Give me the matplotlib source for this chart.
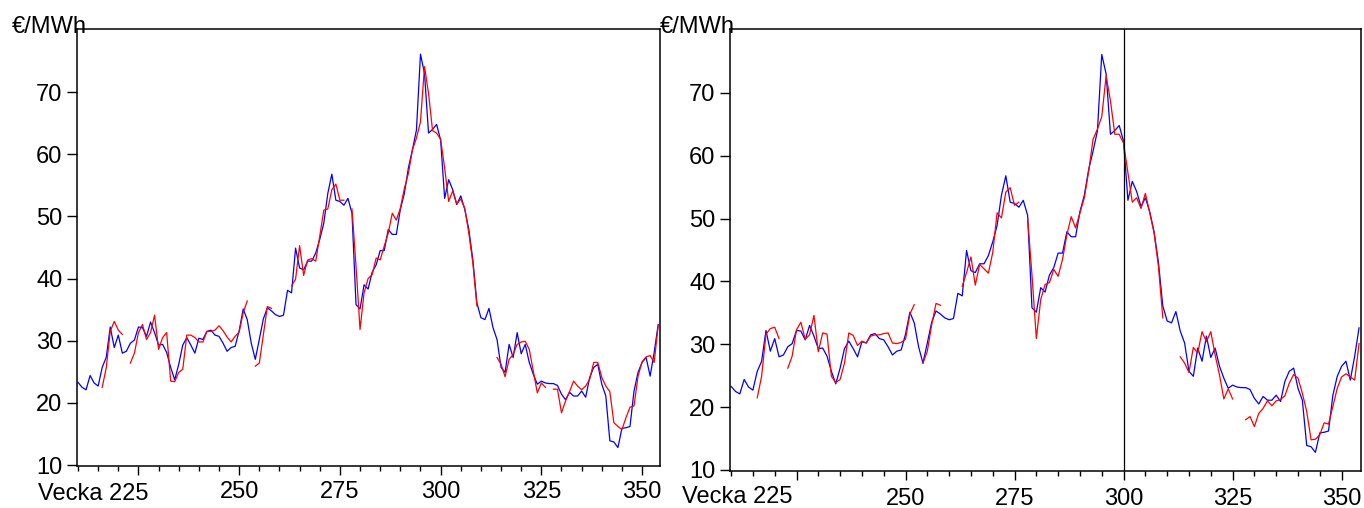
import numpy as np
import matplotlib.pyplot as plt
from matplotlib.ticker import MultipleLocator

plt.rcParams['font.family'] = ['Liberation Sans', 'DejaVu Sans']

nan = np.nan
weeks = np.arange(210, 355)

# spotpris per vecka (blå)
price = [23.3, 22.5, 22.1, 24.4, 23.2, 22.7, 25.7, 27.3, 32.2, 28.9,
         30.9, 28.0, 28.3, 29.6, 30.1, 32.2, 32.1, 30.7, 33.0, 31.3,
         29.3, 29.4, 28.1, 25.7, 23.7, 26.2, 29.3, 30.5, 29.3, 28.0,
         30.4, 30.2, 31.5, 31.7, 30.9, 30.7, 29.6, 28.3, 28.9, 29.1,
         31.6, 35.1, 33.4, 29.6, 27.0, 30.2, 33.5, 35.3, 34.8, 34.2,
         33.9, 34.1, 38.1, 37.7, 44.9, 41.7, 41.4, 42.8, 42.8, 44.1,
         46.3, 48.9, 53.7, 56.8, 52.6, 52.4, 51.8, 52.9, 50.5, 35.8,
         35.1, 39.0, 38.3, 41.0, 42.2, 44.5, 44.5, 47.9, 47.1, 47.1,
         51.1, 53.7, 57.8, 60.7, 63.9, 76.1, 73.0, 63.4, 64.0, 64.8,
         62.3, 52.9, 55.9, 54.3, 51.9, 53.3, 51.1, 47.9, 43.0, 36.1,
         33.7, 33.4, 35.2, 32.1, 30.2, 25.7, 24.9, 29.4, 27.3, 31.3,
         27.9, 29.4, 26.5, 24.6, 23.0, 23.5, 23.2, 23.1, 23.1, 22.8,
         21.4, 20.5, 21.7, 21.1, 21.1, 21.9, 20.9, 24.1, 25.7, 26.2,
         23.0, 21.1, 13.9, 13.7, 12.8, 15.9, 16.0, 16.2, 21.9, 24.9,
         26.5, 27.3, 24.3, 28.1, 32.6]

# prognos, vänster figur (röd)
fc_left = [nan, nan, nan, nan, nan, nan, 22.5, 25.6, 31.5, 33.1,
           31.7, 31.0, nan, 26.4, 28.0, 31.3, 32.6, 30.2, 31.3, 34.1,
           28.6, 30.5, 31.3, 23.5, 23.4, 24.9, 25.4, 30.9, 30.9, 30.5,
           29.8, 29.8, 31.5, 31.5, 31.7, 32.4, 31.6, 30.6, 29.8, 30.7,
           31.4, 34.5, 36.4, nan, 25.9, 26.4, 31.0, 35.5, 35.2, nan,
           nan, nan, nan, 38.8, 39.9, 45.3, 40.5, 43.0, 43.2, 42.8,
           46.8, 51.0, 51.2, 54.3, 55.2, 52.6, 52.6, nan, 51.2, 42.0,
           31.8, 37.7, 40.0, 40.6, 43.3, 43.0, 45.2, 47.3, 50.5, 49.4,
           51.3, 54.5, 56.9, 60.7, 62.6, 65.2, 74.1, 69.8, 63.8, 63.4,
           62.4, 57.8, 52.4, 54.1, 52.0, 52.8, 51.3, 47.3, 42.5, 35.6,
           nan, nan, nan, nan, 27.3, 26.2, 24.2, 27.0, 27.8, 29.4,
           29.8, 29.9, 28.6, 25.1, 21.6, 23.2, 22.5, nan, 22.2, 22.2,
           18.4, 20.3, 21.8, 23.5, 22.7, 22.1, 22.7, 23.8, 26.5, 26.5,
           24.1, 22.7, 21.8, 16.8, 16.2, 15.7, 17.6, 19.3, 19.5, 24.3,
           26.6, 27.4, 27.6, 26.5, 32.4]

# prognos, höger figur (röd)
fc_right = [nan, nan, nan, nan, nan, nan, 21.5, 24.9, 31.6, 32.5,
            32.7, 30.9, nan, 26.2, 28.1, 32.3, 33.5, 30.8, 31.5, 34.6,
            28.8, 31.8, 31.6, 24.9, 23.9, 24.4, 27.0, 31.8, 31.4, 29.8,
            30.5, 30.2, 31.3, 31.5, 31.5, 31.7, 31.8, 30.2, 30.1, 30.3,
            30.8, 34.8, 36.3, nan, 27.0, 28.9, 33.1, 36.5, 36.2, nan,
            nan, nan, nan, 39.2, 41.4, 43.9, 39.4, 42.7, 42.0, 41.3,
            44.6, 50.9, 50.1, 54.2, 54.9, 52.1, 52.6, nan, 50.1, 41.0,
            30.9, 37.1, 39.5, 39.8, 41.9, 40.8, 43.5, 47.4, 50.3, 48.5,
            50.9, 53.3, 57.5, 62.6, 64.2, 66.2, 72.7, 68.7, 63.4, 63.4,
            62.0, 57.3, 52.6, 53.3, 51.6, 54.0, 50.9, 47.7, 42.4, 34.2,
            nan, nan, nan, 28.0, 27.0, 25.5, 29.5, 28.6, 32.0, 30.4,
            32.0, 28.3, 25.1, 21.3, 22.9, 21.3, nan, nan, 18.0, 18.5,
            16.9, 19.0, 19.8, 21.0, 20.2, 21.0, 21.2, 21.8, 23.8, 25.2,
            24.6, 22.2, 19.3, 14.8, 14.9, 15.6, 17.5, 17.3, 20.1, 23.0,
            24.8, 25.3, 24.8, 24.3, 30.1]

yticks = [10, 20, 30, 40, 50, 60, 70]
xticks = [225, 250, 275, 300, 325, 350]
xlabels = ['', '250', '275', '300', '325', '350']

W, H = 1364, 508
fig = plt.figure(figsize=(W / 100, H / 100), dpi=100)


def panel(rect, fc, xpad):
    ax = fig.add_axes(rect)
    ax.plot(weeks, price, color='#0000ff', lw=0.9)
    ax.plot(weeks, fc, color='#ff0000', lw=0.9)
    ax.set_xlim(209.75, 354.45)
    ax.set_ylim(9.84, 80.15)
    ax.set_yticks(yticks)
    ax.set_xticks(xticks)
    ax.set_xticklabels(xlabels)
    ax.xaxis.set_minor_locator(MultipleLocator(5))
    ax.tick_params(axis='y', direction='out', length=7, width=1, pad=3.4, labelsize=17)
    ax.tick_params(axis='x', which='major', direction='out', length=6.5, width=1, pad=xpad, labelsize=17)
    ax.tick_params(axis='x', which='minor', direction='out', length=3.6, width=1)
    for s in ax.spines.values():
        s.set_linewidth(1.1)
    return ax


ax1 = panel([77 / W, 1 - 466 / H, (660 - 77) / W, (466 - 29) / H], fc_left, 4.5)
ax2 = panel([730 / W, 1 - 471 / H, (1361 - 730) / W, (471 - 29) / H], fc_right, 5.5)
ax2.axvline(300, color='black', lw=0.9)

fig.text(12 / W, 1 - 33 / H, '€/MWh', fontsize=17, va='baseline')
fig.text(660 / W, 1 - 33 / H, '€/MWh', fontsize=17, va='baseline')
fig.text(148 / W, 1 - 500 / H, 'Vecka 225', fontsize=17, ha='right', va='baseline')
fig.text(792 / W, 1 - 503 / H, 'Vecka 225', fontsize=17, ha='right', va='baseline')

plt.savefig('out.png', dpi=100)
